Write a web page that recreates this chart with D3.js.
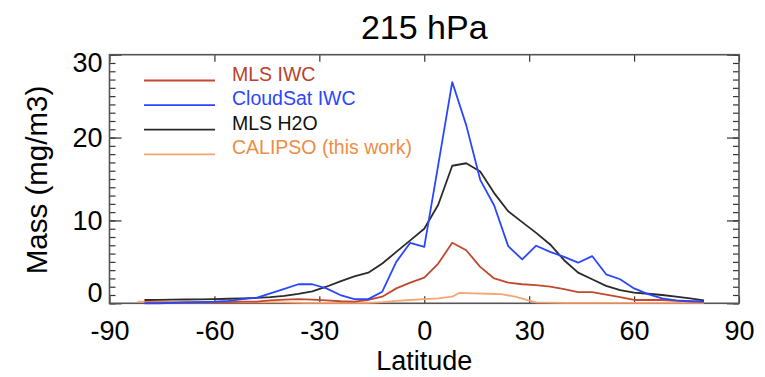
<!DOCTYPE html>
<html lang="en">
<head>
	<meta charset="utf-8">
	<title>215 hPa</title>
	<script src="https://d3js.org/d3.v7.min.js"></script>
	<style>
		body { margin: 0; background: white; }
		text { font-family: "Liberation Sans", Arial, sans-serif; }
	</style>
</head>
<body>
<div id="chart"></div>
<script>

	// Latitude grid shared by the MLS and CloudSat curves
	var latitude = [-80, -76, -72, -68, -64, -60, -56, -52, -48, -44, -40, -36, -32, -28, -24, -20, -16, -12, -8, -4,
		0, 4, 8, 12, 16, 20, 24, 28, 32, 36, 40, 44, 48, 52, 56, 60, 64, 68, 72, 76, 80];

	var mlsIwc = [0.1, 0.1, 0.1, 0.12, 0.15, 0.15, 0.15, 0.2, 0.2, 0.35, 0.45, 0.5, 0.45, 0.35, 0.25, 0.2, 0.4, 0.8, 1.8, 2.5,
		3.1, 4.8, 7.3, 6.4, 4.4, 3.0, 2.5, 2.3, 2.2, 2.0, 1.7, 1.35, 1.35, 1.05, 0.75, 0.4, 0.4, 0.4, 0.3, 0.25, 0.2];

	var cloudsatIwc = [0.0, 0.0, 0.05, 0.1, 0.15, 0.2, 0.3, 0.5, 0.65, 1.2, 1.75, 2.3, 2.3, 1.8, 1.0, 0.5, 0.5, 1.4, 5.0, 7.3,
		6.8, 16.7, 26.7, 21.5, 14.9, 11.8, 6.9, 5.3, 6.95, 6.2, 5.6, 4.9, 5.7, 3.5, 2.9, 1.8, 1.1, 0.6, 0.35, 0.25, 0.2];

	var mlsH2o = [0.4, 0.42, 0.44, 0.46, 0.48, 0.5, 0.55, 0.6, 0.65, 0.75, 0.9, 1.15, 1.45, 2.0, 2.65, 3.25, 3.7, 4.8, 6.2, 7.6,
		9.0, 11.9, 16.6, 16.9, 15.9, 13.3, 11.1, 9.8, 8.5, 7.1, 5.2, 3.7, 2.9, 2.1, 1.6, 1.3, 1.15, 1.0, 0.8, 0.6, 0.35];

	// CALIPSO curve has its own latitude points
	var calipsoLat = [-82, -76, -70, -64, -58, -52, -46, -40, -34, -28, -22, -16, -12, -8, -4, 0, 4, 8, 10, 14, 18, 22, 26, 29, 32, 40, 50, 60, 70, 80];
	var calipsoIwc = [0.2, 0.15, 0.1, 0.1, 0.1, 0.1, 0.1, 0.1, 0.05, 0.05, 0.05, 0.05, 0.15, 0.3, 0.4, 0.5, 0.6, 0.8, 1.25, 1.2, 1.15, 1.1, 0.8, 0.45, 0.1, 0.05, 0.05, 0.05, 0.05, 0.05];

	var seriesNames = ["MLS IWC", "CloudSat IWC", "MLS H2O", "CALIPSO (this work)"];
	var xTicks = [-90, -60, -30, 0, 30, 60, 90];
	var yTicks = [0, 10, 20, 30];

	// colours: line colour and legend text colour
	var lineColors = ["#c2492e", "#2a46ff", "#2a2a2a", "#f6a673"];
	var textColors = ["#b8432c", "#2a46ff", "#111111", "#f08c46"];

	// Define margins
	var margin = {top: 54.7, right: 26, bottom: 73.7, left: 109.5};
	var outer_width = 765;
	var outer_height = 377;
	var width = outer_width - margin.left - margin.right;
	var height = outer_height - margin.top - margin.bottom;

	var svg = d3.select("#chart")
		.append("svg")
		.attr("width", outer_width)
		.attr("height", outer_height)
		.append("g")
		.attr("transform", "translate(" + margin.left + "," + margin.top + ")");

	var xScale = d3.scaleLinear().domain([-90, 90]).range([0, width]);
	var yScale = d3.scaleLinear().domain([0, 30]).range([height, 0]);

	// plain hyphen for negative numbers, like the original
	var plainFormat = function(d) { return String(d); };

	// minor y ticks, every unit, on both sides
	var yMinor = d3.range(0, 31);
	svg.append("g")
		.attr("class", "minor")
		.call(d3.axisLeft(yScale).tickValues(yMinor).tickSize(-6).tickFormat(""));
	svg.append("g")
		.attr("class", "minor")
		.attr("transform", "translate(" + width + ",0)")
		.call(d3.axisRight(yScale).tickValues(yMinor).tickSize(-6).tickFormat(""));

	// major y ticks with labels
	var yAxis = svg.append("g")
		.attr("class", "axis")
		.call(d3.axisLeft(yScale).tickValues(yTicks).tickSize(-12).tickPadding(7).tickFormat(plainFormat));
	svg.append("g")
		.attr("class", "axis")
		.attr("transform", "translate(" + width + ",0)")
		.call(d3.axisRight(yScale).tickValues(yTicks).tickSize(-12).tickFormat(""));

	// end labels are pulled inside the frame like in the original plot
	yAxis.selectAll(".tick text")
		.attr("transform", function(d) {
			if (d == 30) return "translate(0,8)";
			if (d == 0) return "translate(0,-10)";
			return null;
		});

	// x ticks bottom and top
	svg.append("g")
		.attr("class", "axis")
		.attr("transform", "translate(0," + height + ")")
		.call(d3.axisBottom(xScale).tickValues(xTicks).tickSize(-7).tickPadding(18).tickFormat(plainFormat));
	svg.append("g")
		.attr("class", "axis")
		.call(d3.axisTop(xScale).tickValues(xTicks).tickSize(-7).tickFormat(""));

	svg.selectAll(".axis path, .minor path").remove();
	svg.selectAll(".axis line, .minor line")
		.attr("stroke", "#333")
		.attr("stroke-width", 1.2);
	svg.selectAll(".axis text")
		.attr("font-size", 27)
		.attr("fill", "#000")
		.attr("font-family", "Liberation Sans, Arial, sans-serif");

	// frame
	svg.append("rect")
		.attr("x", 0)
		.attr("y", 0)
		.attr("width", width)
		.attr("height", height)
		.attr("fill", "none")
		.attr("stroke", "#555")
		.attr("stroke-width", 1.6);

	// build the series
	var line = d3.line()
		.x(function(d) { return xScale(d[0]); })
		.y(function(d) { return yScale(d[1]); });

	var series = [
		d3.zip(latitude, mlsIwc),
		d3.zip(latitude, cloudsatIwc),
		d3.zip(latitude, mlsH2o),
		d3.zip(calipsoLat, calipsoIwc)
	];

	// draw order: calipso under the others
	var drawOrder = [3, 0, 2, 1];
	drawOrder.forEach(function(i) {
		svg.append("path")
			.datum(series[i])
			.attr("d", line)
			.attr("fill", "none")
			.attr("stroke", lineColors[i])
			.attr("stroke-width", 1.8)
			.attr("stroke-linejoin", "round");
	});

	// legend
	var legend = svg.append("g")
		.attr("transform", "translate(" + (144 - margin.left) + "," + (80.5 - margin.top) + ")");

	var entries = legend.selectAll("g")
		.data(seriesNames)
		.enter()
		.append("g")
		.attr("transform", function(d, i) { return "translate(0," + (i * 24.6) + ")"; });

	entries.append("line")
		.attr("x1", 0)
		.attr("x2", 71)
		.attr("y1", 0)
		.attr("y2", 0)
		.attr("stroke", function(d, i) { return lineColors[i]; })
		.attr("stroke-width", 1.8);

	entries.append("text")
		.attr("x", 88)
		.attr("y", 0)
		.attr("font-size", 19.5)
		.attr("fill", function(d, i) { return textColors[i]; })
		.text(function(d) { return d; });

	// titles
	svg.append("text")
		.attr("x", xScale(0))
		.attr("y", 39 - margin.top)
		.attr("text-anchor", "middle")
		.attr("font-size", 34)
		.text("215 hPa");

	svg.append("text")
		.attr("x", xScale(0))
		.attr("y", 370 - margin.top)
		.attr("text-anchor", "middle")
		.attr("font-size", 27)
		.text("Latitude");

	svg.append("text")
		.attr("transform", "translate(" + (47 - margin.left) + "," + (180 - margin.top) + ") rotate(-90)")
		.attr("text-anchor", "middle")
		.attr("font-size", 29.5)
		.text("Mass (mg/m3)");

</script>
</body>
</html>
